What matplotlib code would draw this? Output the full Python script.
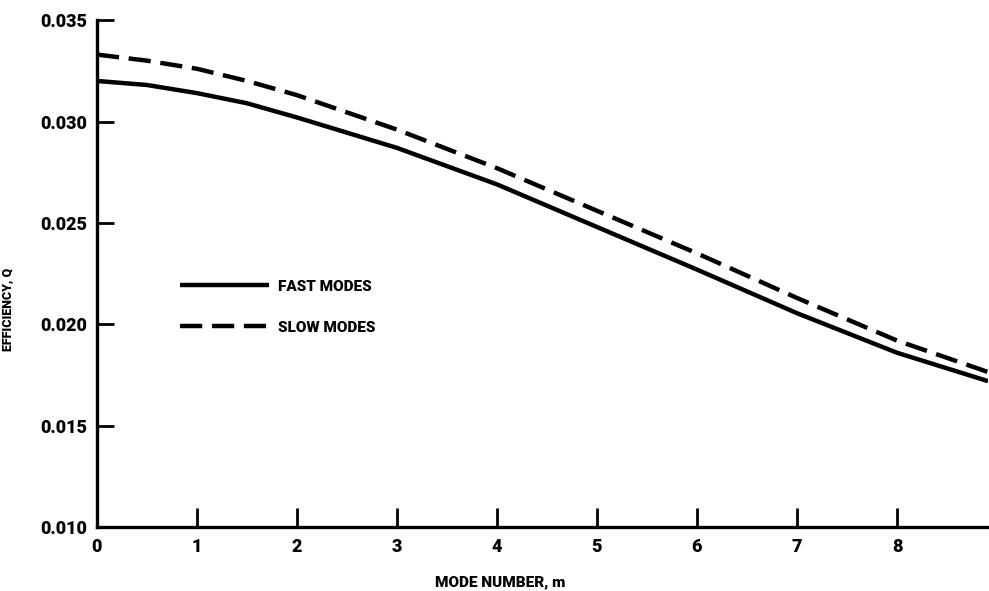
import matplotlib
matplotlib.use("Agg")
import matplotlib.pyplot as plt

# ---- data ----
mode_m = [0, 0.5, 1, 1.5, 2, 3, 4, 5, 6, 7, 8, 8.91]
fast_q = [0.0320, 0.0318, 0.0314, 0.0309, 0.0302, 0.0287, 0.0269, 0.0248, 0.0227, 0.02055, 0.0186, 0.0172]
slow_q = [0.0333, 0.0330, 0.0326, 0.0320, 0.0313, 0.0296, 0.0277, 0.0256, 0.0235, 0.0213, 0.0192, 0.01765]

x_ticks = [0, 1, 2, 3, 4, 5, 6, 7, 8]
y_ticks = [0.010, 0.015, 0.020, 0.025, 0.030, 0.035]
y_labels = ["0.010", "0.015", "0.020", "0.025", "0.030", "0.035"]

W = "black"  # heaviest weight available

plt.rcParams["font.family"] = ["Roboto", "DejaVu Sans"]
plt.rcParams["font.weight"] = W
plt.rcParams["lines.scale_dashes"] = False

fig = plt.figure(figsize=(9.89, 5.91), dpi=100)
ax = fig.add_axes([0.098, 0.108, 0.901, 0.858])

ax.plot(mode_m, fast_q, color="black", lw=3.2, solid_capstyle="butt", label="FAST MODES")
ax.plot(mode_m, slow_q, color="black", lw=3.2, dashes=(16, 7), label="SLOW MODES")

ax.set_xlim(0, 8.91)
ax.set_ylim(0.010, 0.035)
ax.set_xticks(x_ticks)
ax.set_xticklabels([str(t) for t in x_ticks])
ax.set_yticks(y_ticks)
ax.set_yticklabels(y_labels)

for s in ["top", "right"]:
    ax.spines[s].set_visible(False)
for s in ["left", "bottom"]:
    ax.spines[s].set_linewidth(2.4)

ax.tick_params(axis="y", direction="in", length=12, width=2.0, pad=7, labelsize=13)
ax.tick_params(axis="x", direction="in", length=14, width=2.0, pad=8, labelsize=13)
for lab in ax.get_xticklabels() + ax.get_yticklabels():
    lab.set_fontweight(W)

ax.set_xlabel("MODE NUMBER, m", fontsize=11, fontweight=W)
ax.xaxis.set_label_coords(0.452, -0.095)
ax.set_ylabel("EFFICIENCY, Q", fontsize=9, fontweight=W)
ax.yaxis.set_label_coords(-0.092, 0.43)

leg = ax.legend(loc="upper left", bbox_to_anchor=(0.078, 0.515), frameon=False,
                handlelength=5.8, handletextpad=0.6, labelspacing=1.75,
                prop={"size": 11, "weight": W})

fig.savefig("out.png", dpi=100)
